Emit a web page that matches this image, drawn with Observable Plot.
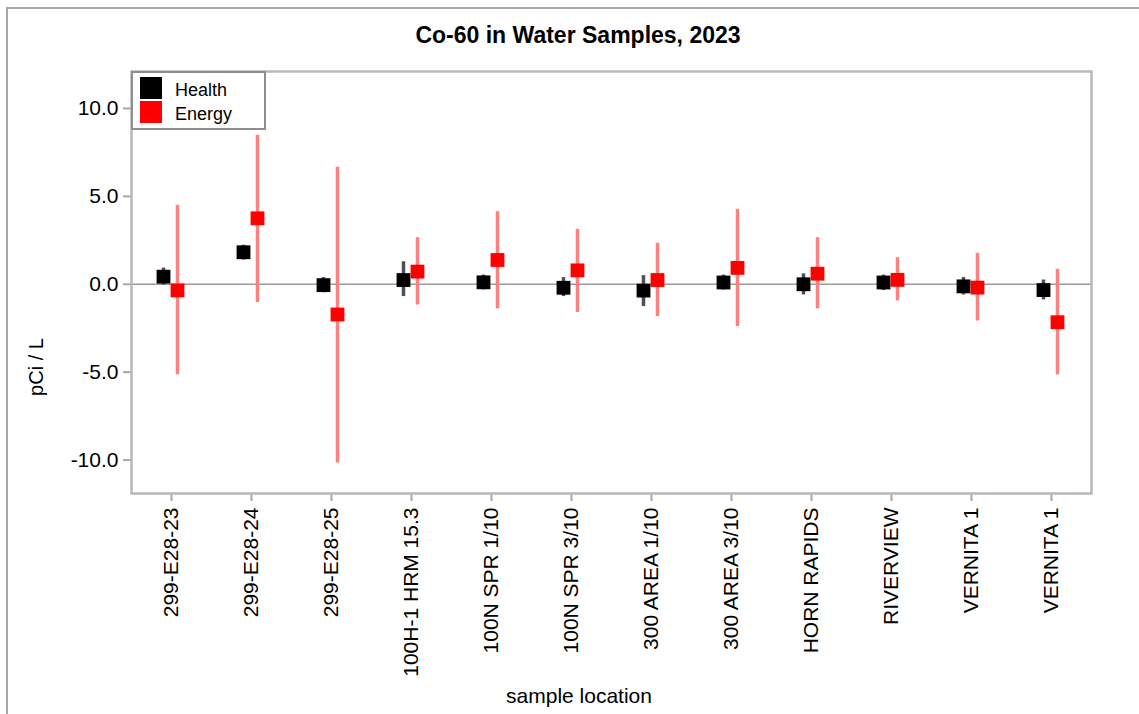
<!DOCTYPE html>
<html>
<head>
<meta charset="utf-8">
<script src="https://cdn.jsdelivr.net/npm/d3@7"></script>
<script src="https://cdn.jsdelivr.net/npm/@observablehq/plot@0.6"></script>
<style>
  html, body { margin: 0; padding: 0; background: #fff; }
  #wrap { position: relative; width: 1139px; height: 714px; overflow: hidden; background: #fff;
          font-family: "Liberation Sans", Arial, sans-serif; color: #000; }
  #outer { position: absolute; left: 6px; top: 7px; width: 1300px; height: 900px;
           border-left: 2px solid #a8a8a8; border-top: 2px solid #a8a8a8; }
  #title { position: absolute; left: 328px; width: 500px; top: 24px; text-align: center;
           font-weight: bold; font-size: 23px; line-height: 1; }
  #chart { position: absolute; left: 0; top: 60px; }
  #legend { position: absolute; left: 131px; top: 71px; width: 135px; height: 59px; box-sizing: border-box;
            border: 2px solid #8e8e8e; background: #fff; }
  .sw { position: absolute; width: 22px; height: 22px; left: 7px; }
  .lt { position: absolute; left: 42px; font-size: 18px; line-height: 1; }
  #ylab { position: absolute; left: 36px; top: 367px; transform: translate(-50%, -50%) rotate(-90deg);
          font-size: 20px; white-space: nowrap; line-height: 1; }
  #xlab { position: absolute; left: 579px; top: 685px; transform: translateX(-50%);
          font-size: 21px; white-space: nowrap; line-height: 1; }
</style>
</head>
<body>
<div id="wrap">
  <div id="outer"></div>
  <div id="title">Co-60 in Water Samples, 2023</div>
  <div id="chart"></div>
  <div id="legend">
    <div class="sw" style="top:4px;background:#000"></div>
    <div class="lt" style="top:8px">Health</div>
    <div class="sw" style="top:28px;background:#ff0000"></div>
    <div class="lt" style="top:32px">Energy</div>
  </div>
  <div id="ylab">pCi / L</div>
  <div id="xlab">sample location</div>
</div>
<script>
const categories = ["299-E28-23", "299-E28-24", "299-E28-25", "100H-1 HRM 15.3", "100N SPR 1/10",
  "100N SPR 3/10", "300 AREA 1/10", "300 AREA 3/10", "HORN RAPIDS", "RIVERVIEW", "VERNITA 1", "VERNITA 1"];

const healthValue = [0.43, 1.82, -0.05, 0.24, 0.11, -0.20, -0.36, 0.10, 0.00, 0.10, -0.12, -0.33];
const healthLow   = [-0.05, 1.38, -0.48, -0.70, -0.32, -0.70, -1.27, -0.32, -0.61, -0.36, -0.61, -0.89];
const healthHigh  = [0.92, 2.22, 0.38, 1.28, 0.52, 0.38, 0.49, 0.52, 0.59, 0.52, 0.38, 0.24];

const energyValue = [-0.35, 3.75, -1.72, 0.72, 1.38, 0.79, 0.24, 0.93, 0.60, 0.25, -0.19, -2.16];
const energyLow   = [-5.15, -1.04, -10.17, -1.18, -1.40, -1.61, -1.84, -2.41, -1.40, -0.95, -2.09, -5.15];
const energyHigh  = [4.50, 8.48, 6.66, 2.65, 4.13, 3.12, 2.33, 4.26, 2.65, 1.51, 1.76, 0.85];

const yTicks = [-10, -5, 0, 5, 10];

const idx = d3.range(categories.length);
const health = idx.map(i => ({i, v: healthValue[i], lo: healthLow[i], hi: healthHigh[i]}));
const energy = idx.map(i => ({i, v: energyValue[i], lo: energyLow[i], hi: energyHigh[i]}));

const chart = Plot.plot({
  width: 1139,
  height: 654,
  marginTop: 11,
  marginBottom: 221,
  marginLeft: 131,
  marginRight: 48,
  style: {fontFamily: "'Liberation Sans', Arial, sans-serif", fontSize: "21px", color: "#000", background: "transparent", overflow: "visible"},
  x: {type: "point", domain: idx, padding: 0.5, label: null},
  y: {domain: [-11.9, 12.1], label: null},
  marks: [
    Plot.ruleY([0], {stroke: "#9a9a9a", strokeWidth: 1.5}),
    Plot.axisX({tickRotate: -90, tickSize: 8, tickPadding: 6, stroke: "#a8a8a8", strokeWidth: 2,
      fill: "#000", fontSize: 21, label: null, tickFormat: i => categories[i]}),
    Plot.axisY(yTicks, {tickSize: 8, tickPadding: 5, stroke: "#a8a8a8", strokeWidth: 2,
      fill: "#000", fontSize: 21, label: null, tickFormat: d => d.toFixed(1)}),
    Plot.frame({stroke: "#b8b8b8", strokeWidth: 2.5}),
    Plot.ruleX(health, {x: "i", y1: "lo", y2: "hi", stroke: "#505050", strokeWidth: 3.5, dx: -8}),
    Plot.dot(health, {x: "i", y: "v", symbol: "square", fill: "#000", r: 7.8, dx: -8}),
    Plot.ruleX(energy, {x: "i", y1: "lo", y2: "hi", stroke: "#ff8080", strokeWidth: 3.5, dx: 6}),
    Plot.dot(energy, {x: "i", y: "v", symbol: "square", fill: "#ff0000", r: 7.8, dx: 6})
  ]
});
document.getElementById("chart").appendChild(chart);
</script>
</body>
</html>
